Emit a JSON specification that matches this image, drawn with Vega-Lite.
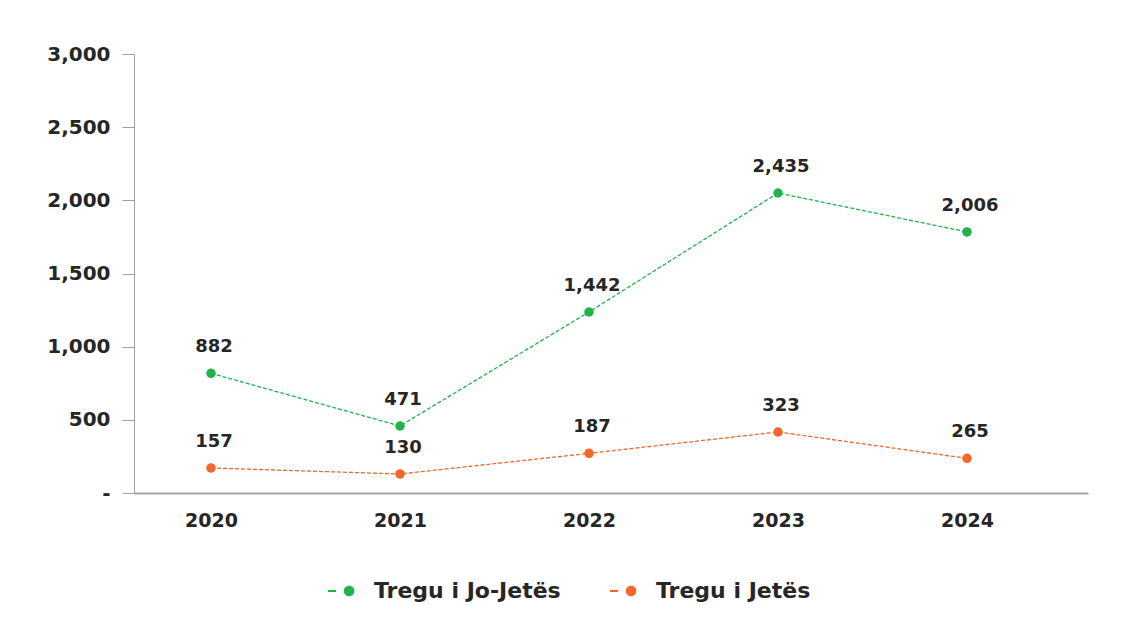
{
  "$schema": "https://vega.github.io/schema/vega-lite/v6.json",
  "width": 954,
  "height": 439,
  "autosize": {"type": "none"},
  "padding": {"left": 134, "top": 54, "right": 41, "bottom": 137},
  "background": "white",
  "config": {"view": {"stroke": null}, "font": "DejaVu Sans"},
  "data": {
    "values": [
      {"series": "Tregu i Jo-Jetës", "year": 2020, "plotted": 818, "value": 882},
      {"series": "Tregu i Jo-Jetës", "year": 2021, "plotted": 458, "value": 471},
      {"series": "Tregu i Jo-Jetës", "year": 2022, "plotted": 1237, "value": 1442},
      {"series": "Tregu i Jo-Jetës", "year": 2023, "plotted": 2050, "value": 2435},
      {"series": "Tregu i Jo-Jetës", "year": 2024, "plotted": 1784, "value": 2006},
      {"series": "Tregu i Jetës", "year": 2020, "plotted": 171, "value": 157},
      {"series": "Tregu i Jetës", "year": 2021, "plotted": 130, "value": 130},
      {"series": "Tregu i Jetës", "year": 2022, "plotted": 271, "value": 187},
      {"series": "Tregu i Jetës", "year": 2023, "plotted": 417, "value": 323},
      {"series": "Tregu i Jetës", "year": 2024, "plotted": 237, "value": 265}
    ]
  },
  "encoding": {
    "x": {
      "field": "year",
      "type": "quantitative",
      "scale": {"domain": [2019.5926, 2024.6402], "nice": false, "zero": false},
      "axis": {
        "values": [2020, 2021, 2022, 2023, 2024],
        "format": "d",
        "title": null,
        "grid": false,
        "ticks": false,
        "domainColor": "#a6a6a6",
        "domainWidth": 2,
        "labelFont": "DejaVu Sans",
        "labelFontSize": 19,
        "labelFontWeight": "bold",
        "labelColor": "#262626",
        "labelPadding": 18
      }
    },
    "y": {
      "field": "plotted",
      "type": "quantitative",
      "scale": {"domain": [0, 3000], "nice": false},
      "axis": {
        "values": [0, 500, 1000, 1500, 2000, 2500, 3000],
        "labelExpr": "datum.value === 0 ? '-' : format(datum.value, ',')",
        "title": null,
        "grid": false,
        "tickSize": 12,
        "tickColor": "#a0a0a0",
        "domainColor": "#a0a0a0",
        "domainWidth": 1,
        "labelFont": "DejaVu Sans",
        "labelFontSize": 20,
        "labelFontWeight": "bold",
        "labelColor": "#262626",
        "labelPadding": 12
      }
    },
    "color": {
      "field": "series",
      "type": "nominal",
      "scale": {"domain": ["Tregu i Jo-Jetës", "Tregu i Jetës"], "range": ["#21b24b", "#f4662a"]},
      "legend": {
        "orient": "none",
        "legendX": 193,
        "legendY": 523,
        "direction": "horizontal",
        "title": null,
        "labelFont": "DejaVu Sans",
        "labelFontSize": 22,
        "labelFontWeight": "bold",
        "labelColor": "#262626",
        "labelLimit": 400,
        "symbolType": "M -1 0 L -0.38 0 M 0.95 0 A 0.33 0.33 0 1 1 0.29 0 A 0.33 0.33 0 1 1 0.95 0 Z",
        "symbolSize": 676,
        "symbolStrokeWidth": 2,
        "columnPadding": 45,
        "labelOffset": 19,
        "encode": {
          "symbols": {
            "update": {
              "fill": {"scale": "color", "field": "value"},
              "stroke": {"scale": "color", "field": "value"},
              "strokeDash": {"value": [1, 0]},
              "opacity": {"value": 1}
            }
          }
        }
      }
    }
  },
  "layer": [
    {"mark": {"type": "line", "strokeDash": [4, 2], "strokeWidth": 1.3}},
    {"mark": {"type": "point", "filled": true, "size": 90, "opacity": 1}},
    {
      "mark": {"type": "text", "dy": -26, "dx": 3, "fontSize": 18, "fontWeight": "bold", "font": "DejaVu Sans"},
      "encoding": {
        "text": {"field": "value", "type": "quantitative", "format": ","},
        "color": {"value": "#262626"}
      }
    }
  ]
}
